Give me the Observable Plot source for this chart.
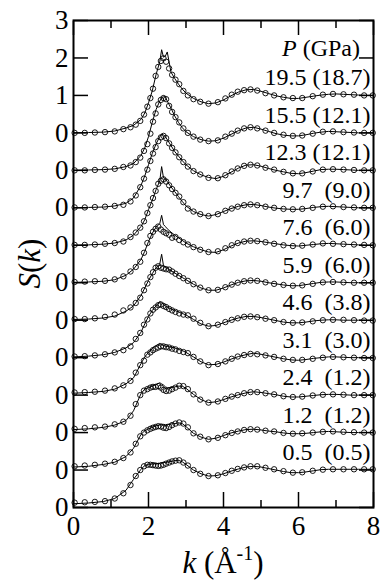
<!DOCTYPE html>
<html><head><meta charset="utf-8">
<script src="https://cdn.jsdelivr.net/npm/d3@7"></script>
<script src="https://cdn.jsdelivr.net/npm/@observablehq/plot@0.6"></script>
<style>
body{margin:0;background:#fff}
svg{display:block}
svg text, svg tspan { font-family: "Liberation Serif", "Times New Roman", serif; }
</style>
</head><body><div id="chart"></div>
<script>
// Curve labels: pressure (GPa), top to bottom
const labels = ["19.5 (18.7)", "15.5 (12.1)", "12.3 (12.1)", "9.7  (9.0)", "7.6  (6.0)", "5.9  (6.0)", "4.6  (3.8)", "3.1  (3.0)", "2.4  (1.2)", "1.2  (1.2)", "0.5  (0.5)"];
const offsets = [10, 9, 8, 7, 6, 5, 4, 3, 2, 1, 0];

// Y tick values and labels
const yTicks = [0,1,2,3,4,5,6,7,8,9,10,11,12,13];
const yTickLabels = ["0","0","0","0","0","0","0","0","0","0","0","1","2","3"];
const xMajor = [0, 2, 4, 6, 8];
const xMinor = [1, 3, 5, 7];

// k grid of the simulated (solid) curves
const kLine = [0,0.4,0.8,1.1,1.4, 1.6,1.8,1.9,2.0,2.1, 2.2,2.3,2.35,2.4,2.45, 2.5,2.6,2.7,2.8,2.9, 3.0,3.2,3.4,3.6,3.8, 4.0,4.2,4.4,4.6,4.8, 5.0,5.2,5.4,5.6,5.8, 6.0,6.2,6.4,6.6,6.8, 7.0,7.2,7.4,7.6,7.8, 8.0];

const line195 = [0.0,0.01,0.02,0.05,0.13, 0.2,0.36,0.53,0.8,1.12, 1.55,1.9,2.22,2.02,2.05, 2.16,1.62,1.45,1.3,1.17, 1.06,0.92,0.83,0.78,0.8, 0.88,0.99,1.09,1.15,1.16, 1.11,1.05,0.99,0.95,0.92, 0.92,0.95,0.98,1.01,1.03, 1.04,1.03,1.02,1.01,1.0, 1.0];
const line155 = [0.0,0.01,0.02,0.04,0.1, 0.18,0.4,0.6,0.9,1.28, 1.62,1.85,1.93,1.98,1.95, 1.85,1.66,1.45,1.28,1.14, 1.03,0.9,0.82,0.78,0.79, 0.86,0.96,1.06,1.13,1.15, 1.1,1.04,0.98,0.94,0.92, 0.92,0.95,0.99,1.02,1.04, 1.03,1.02,1.01,1.0,1.0, 1.0];
const line123 = [0.0,0.01,0.02,0.05,0.12, 0.26,0.6,0.85,1.15,1.45, 1.7,1.9,1.96,1.95,1.9, 1.82,1.66,1.5,1.38,1.26, 1.15,0.99,0.88,0.81,0.78, 0.84,0.95,1.06,1.14,1.15, 1.11,1.05,1.0,0.96,0.92, 0.91,0.94,0.98,1.02,1.03, 1.03,1.02,1.01,1.0,1.0, 1.0];
const line97 = [0.0,0.01,0.03,0.06,0.14, 0.27,0.5,0.68,0.95,1.2, 1.48,1.72,2.1,1.8,1.78, 1.7,1.56,1.43,1.3,1.17, 1.05,0.9,0.82,0.78,0.82, 0.9,0.98,1.04,1.08,1.09, 1.06,1.02,0.99,0.97,0.96, 0.96,0.98,1.01,1.03,1.04, 1.03,1.02,1.01,1.0,1.0, 1.0];
const line76 = [0.01,0.02,0.04,0.08,0.2, 0.36,0.62,0.84,1.1,1.32, 1.48,1.58,1.8,1.55,1.5, 1.44,1.35,1.27,1.2,1.13, 1.06,0.96,0.88,0.82,0.81, 0.88,0.98,1.06,1.11,1.12, 1.1,1.07,1.04,1.01,0.99, 0.98,1.0,1.02,1.04,1.05, 1.04,1.03,1.02,1.01,1.0, 1.0];
const line59 = [0.02,0.03,0.06,0.11,0.24, 0.38,0.66,0.86,1.06,1.24, 1.4,1.5,1.76,1.45,1.42, 1.38,1.32,1.26,1.2,1.14, 1.08,0.96,0.86,0.8,0.8, 0.86,0.94,1.01,1.05,1.06, 1.04,1.0,0.97,0.94,0.92, 0.92,0.95,0.98,1.01,1.02, 1.02,1.01,1.0,1.0,1.0, 1.0];
const line46 = [0.02,0.04,0.08,0.14,0.26, 0.4,0.68,0.9,1.1,1.26, 1.38,1.5,1.46,1.42,1.38, 1.35,1.3,1.26,1.22,1.18, 1.14,1.02,0.9,0.84,0.86, 0.93,1.0,1.06,1.1,1.1, 1.07,1.03,0.99,0.95,0.93, 0.93,0.95,0.98,1.0,1.01, 1.01,1.0,1.0,1.0,0.99, 0.99];
const line31 = [0.05,0.07,0.1,0.16,0.3, 0.46,0.84,1.02,1.14,1.24, 1.32,1.38,1.34,1.33,1.3, 1.3,1.28,1.26,1.22,1.19, 1.14,1.02,0.89,0.81,0.82, 0.88,0.96,1.03,1.08,1.12, 1.09,1.05,1.01,0.97,0.94, 0.93,0.95,0.98,1.0,1.02, 1.02,1.01,1.0,1.0,0.99, 0.99];
const line24 = [0.08,0.1,0.14,0.2,0.32, 0.58,1.04,1.16,1.2,1.24, 1.28,1.33,1.3,1.27,1.22, 1.2,1.2,1.22,1.24,1.24, 1.18,1.02,0.88,0.8,0.82, 0.88,0.95,1.01,1.06,1.09, 1.07,1.04,1.01,0.97,0.95, 0.95,0.97,0.99,1.01,1.02, 1.02,1.01,1.0,1.0,1.0, 1.0];
const line12 = [0.08,0.1,0.15,0.21,0.36, 0.58,0.95,1.05,1.1,1.14, 1.18,1.2,1.22,1.22,1.21, 1.22,1.23,1.24,1.26,1.24, 1.16,0.98,0.88,0.82,0.85, 0.92,0.99,1.04,1.08,1.09, 1.07,1.04,1.02,0.99,0.97, 0.97,0.98,1.0,1.02,1.03, 1.02,1.01,1.0,1.0,1.0, 1.0];
const line05 = [0.1,0.12,0.16,0.24,0.46, 0.75,1.02,1.12,1.15,1.16, 1.17,1.18,1.2,1.2,1.2, 1.21,1.23,1.25,1.26,1.22, 1.15,1.0,0.9,0.84,0.85, 0.9,0.97,1.03,1.08,1.1, 1.08,1.04,1.0,0.96,0.93, 0.93,0.95,0.98,1.01,1.02, 1.02,1.02,1.02,1.02,1.02, 1.02];

// k grid of the experimental (open circle) points
const kDots = [0.03,0.3,0.57,0.84,1.1, 1.33,1.52,1.66,1.78,1.88, 1.97,2.05,2.12,2.19,2.26, 2.33,2.4,2.47,2.55,2.63, 2.72,2.82,2.93,3.05,3.2, 3.38,3.6,3.85,4.05,4.22, 4.38,4.55,4.72,4.9,5.12, 5.35,5.6,5.85,6.1,6.38, 6.65,6.92,7.2,7.48,7.75, 7.98];

const dots195 = [0.0,0.0,0.01,0.02,0.04, 0.1,0.15,0.22,0.32,0.49, 0.7,0.93,1.18,1.52,1.76, 1.92,1.99,1.9,1.72,1.55, 1.42,1.3,1.12,1.0,0.9, 0.83,0.78,0.82,0.92,1.02, 1.1,1.14,1.16,1.13,1.06, 1.0,0.95,0.93,0.93,0.98, 1.02,1.04,1.03,1.02,1.0, 1.0];
const dots155 = [0.0,0.0,0.01,0.02,0.04, 0.09,0.13,0.22,0.34,0.52, 0.7,0.98,1.3,1.52,1.76, 1.88,1.93,1.9,1.72,1.56, 1.42,1.28,1.12,1.0,0.9, 0.82,0.78,0.8,0.9,0.98, 1.06,1.12,1.15,1.12,1.06, 1.0,0.95,0.92,0.93,0.98, 1.03,1.04,1.02,1.01,1.0, 1.0];
const dots123 = [0.01,0.01,0.02,0.03,0.05, 0.08,0.17,0.33,0.55,0.78, 1.02,1.25,1.45,1.62,1.78, 1.88,1.92,1.86,1.72,1.6, 1.48,1.35,1.22,1.1,0.98, 0.89,0.8,0.79,0.87,0.97, 1.05,1.12,1.15,1.13,1.07, 1.02,0.96,0.92,0.92,0.97, 1.02,1.03,1.02,1.01,1.0, 1.0];
const dots97 = [0.01,0.01,0.02,0.04,0.06, 0.1,0.22,0.34,0.47,0.64, 0.86,1.07,1.26,1.45,1.64, 1.72,1.76,1.7,1.6,1.5, 1.4,1.3,1.15,0.98,0.9, 0.83,0.78,0.83,0.92,0.98, 1.03,1.07,1.09,1.07,1.03, 1.0,0.97,0.96,0.97,1.0, 1.03,1.04,1.02,1.01,1.0, 1.0];
const dots76 = [0.02,0.03,0.04,0.05,0.09, 0.17,0.3,0.42,0.56,0.8, 1.06,1.25,1.36,1.44,1.5, 1.42,1.36,1.32,1.28,1.2, 1.22,1.14,1.08,1.02,0.95, 0.88,0.82,0.84,0.92,1.0, 1.06,1.1,1.12,1.11,1.08, 1.04,1.0,0.98,0.99,1.02, 1.05,1.04,1.03,1.02,1.01, 1.0];
const dots59 = [0.03,0.03,0.05,0.09,0.15, 0.26,0.34,0.46,0.6,0.8, 0.98,1.15,1.28,1.4,1.44, 1.4,1.38,1.36,1.35,1.3, 1.24,1.18,1.12,1.05,0.96, 0.87,0.8,0.81,0.88,0.95, 1.0,1.04,1.06,1.05,1.01, 0.97,0.94,0.92,0.93,0.97, 1.01,1.02,1.01,1.0,1.0, 1.0];
const dots46 = [0.03,0.04,0.06,0.09,0.14, 0.2,0.3,0.5,0.66,0.88, 1.02,1.18,1.28,1.34,1.4, 1.42,1.38,1.35,1.3,1.26, 1.22,1.18,1.15,1.13,1.04, 0.93,0.84,0.88,0.95,1.01, 1.05,1.09,1.1,1.08,1.04, 1.0,0.95,0.93,0.94,0.97, 1.0,1.01,1.01,1.0,0.99, 0.99];
const dots31 = [0.07,0.08,0.09,0.12,0.18, 0.26,0.38,0.6,0.8,0.92, 1.08,1.14,1.2,1.24,1.27, 1.3,1.3,1.28,1.27,1.24, 1.22,1.18,1.15,1.12,1.02, 0.9,0.8,0.83,0.9,0.97, 1.03,1.07,1.1,1.09,1.06, 1.02,0.97,0.94,0.94,0.97, 1.0,1.02,1.01,1.0,0.99, 0.99];
const dots24 = [0.1,0.12,0.14,0.16,0.22, 0.29,0.45,0.76,1.0,1.12, 1.16,1.2,1.22,1.22,1.24, 1.2,1.14,1.11,1.12,1.16, 1.2,1.25,1.24,1.16,1.02, 0.88,0.8,0.83,0.9,0.96, 1.0,1.05,1.08,1.08,1.05, 1.02,0.97,0.95,0.96,0.99, 1.01,1.02,1.01,1.0,1.0, 1.0];
const dots12 = [0.1,0.12,0.14,0.17,0.22, 0.32,0.47,0.7,0.9,1.0, 1.06,1.1,1.13,1.15,1.17, 1.16,1.13,1.12,1.15,1.2, 1.24,1.27,1.24,1.14,0.98, 0.89,0.82,0.86,0.93,0.99, 1.03,1.07,1.09,1.08,1.05, 1.03,0.99,0.97,0.98,1.0, 1.02,1.03,1.02,1.01,1.0, 1.0];
const dots05 = [0.13,0.14,0.15,0.17,0.24, 0.38,0.6,0.84,1.0,1.1, 1.14,1.14,1.13,1.12,1.11, 1.12,1.14,1.17,1.2,1.23, 1.25,1.26,1.2,1.12,1.0, 0.9,0.84,0.86,0.92,0.98, 1.03,1.07,1.1,1.1,1.06, 1.02,0.97,0.93,0.94,0.98, 1.01,1.02,1.02,1.02,1.02, 1.02];

const lineSeries = [line195, line155, line123, line97, line76, line59, line46, line31, line24, line12, line05];
const dotSeries = [dots195, dots155, dots123, dots97, dots76, dots59, dots46, dots31, dots24, dots12, dots05];

const lineRows = lineSeries.flatMap((arr, i) => arr.map((s, j) => ({k: kLine[j], y: s + offsets[i], g: i})));
const dotRows = dotSeries.flatMap((arr, i) => arr.map((s, j) => ({k: kDots[j], y: s + offsets[i], g: i})));
const labelRows = labels.map((label, i) => ({label: label.replace(/ /g, "\u00a0"), y: offsets[i] + 1.5}));

const FONT = "Liberation Serif";

const chart = Plot.plot({
  width: 380, height: 582,
  marginLeft: 73, marginRight: 7, marginTop: 20, marginBottom: 75,
  style: {fontFamily: "Liberation Serif", color: "black", background: "white", overflow: "visible"},
  x: {domain: [0, 8]},
  y: {domain: [0, 13]},
  marks: [
    Plot.line(lineRows, {x: "k", y: "y", z: "g", stroke: "black", strokeWidth: 1}),
    Plot.dot(dotRows, {x: "k", y: "y", r: 2.7, stroke: "black", strokeWidth: 0.9, fill: "none"}),
    Plot.text(labelRows, {y: "y", text: "label", frameAnchor: "right", textAnchor: "end", dx: -3, dy: 1, fontSize: 24, fill: "black"}),
    // inward tick marks
    Plot.axisY(yTicks, {anchor: "left", tickSize: 15, dx: 15, strokeWidth: 1.5, fill: "none", tickFormat: () => "", label: null}),
    Plot.axisY(yTicks, {anchor: "right", tickSize: 15, dx: -15, strokeWidth: 1.5, fill: "none", tickFormat: () => "", label: null}),
    Plot.axisX(xMajor, {anchor: "bottom", tickSize: 15, dy: -15, strokeWidth: 1.5, fill: "none", tickFormat: () => "", label: null}),
    Plot.axisX(xMinor, {anchor: "bottom", tickSize: 7, dy: -7, strokeWidth: 1.5, fill: "none", tickFormat: () => "", label: null}),
    Plot.axisX(xMajor, {anchor: "top", tickSize: 14, dy: 14, strokeWidth: 1.5, fill: "none", tickFormat: () => "", label: null}),
    Plot.axisX(xMinor, {anchor: "top", tickSize: 7, dy: 7, strokeWidth: 1.5, fill: "none", tickFormat: () => "", label: null}),
    // tick labels
    Plot.axisY(yTicks, {anchor: "left", tickSize: 0, tickPadding: 5, fontSize: 27, tickFormat: d => yTickLabels[yTicks.indexOf(d)], label: null}),
    Plot.axisX(xMajor, {anchor: "bottom", tickSize: 0, tickPadding: 8, fontSize: 27, label: null}),
    Plot.frame({stroke: "black", strokeWidth: 2})
  ]
});

document.getElementById("chart").appendChild(chart);

const xs = chart.scale("x"), ys = chart.scale("y");
const svg = d3.select(chart);

// "P (GPa)" header
const ph = svg.append("text")
  .attr("x", xs.apply(8) - 13).attr("y", ys.apply(12.25)).attr("dy", "0.32em")
  .attr("text-anchor", "end").attr("font-size", 24).attr("font-family", FONT).attr("fill", "black");
ph.append("tspan").attr("font-style", "italic").text("P");
ph.append("tspan").text("\u00a0(GPa)");

// Y axis title S(k)
const yMid = (ys.apply(0) + ys.apply(13)) / 2;
const st = svg.append("text")
  .attr("transform", `translate(40,${yMid}) rotate(-90)`)
  .attr("text-anchor", "middle").attr("font-size", 31).attr("font-family", FONT).attr("fill", "black");
st.append("tspan").attr("font-style", "italic").text("S");
st.append("tspan").text("(");
st.append("tspan").attr("font-style", "italic").text("k");
st.append("tspan").text(")");

// X axis title k (Å^-1)
const xMid = (xs.apply(0) + xs.apply(8)) / 2;
const kt = svg.append("text")
  .attr("x", xMid).attr("y", 573)
  .attr("text-anchor", "middle").attr("font-size", 31).attr("font-family", FONT).attr("fill", "black");
kt.append("tspan").attr("font-style", "italic").text("k");
kt.append("tspan").text("\u00a0(Å");
kt.append("tspan").attr("font-size", 20).attr("dy", -13).text("-1");
kt.append("tspan").attr("dy", 13).text(")");
</script>
</body></html>
